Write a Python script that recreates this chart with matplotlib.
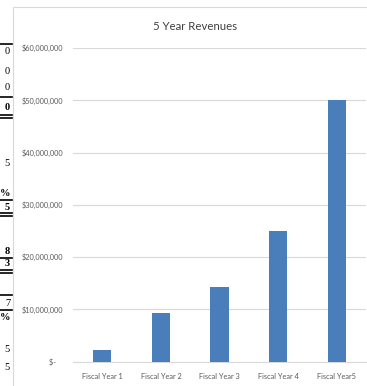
import matplotlib
matplotlib.use("Agg")
import matplotlib.pyplot as plt
from matplotlib.ticker import FuncFormatter
from matplotlib.patches import Rectangle
from matplotlib.lines import Line2D

categories = ["Fiscal Year 1", "Fiscal Year 2", "Fiscal Year 3", "Fiscal Year 4", "Fiscal Year5"]
revenues = [2200000, 9400000, 14300000, 25000000, 50000000]
yticks = [0, 10000000, 20000000, 30000000, 40000000, 50000000, 60000000]
title = "5 Year Revenues"

# cropped spreadsheet fragments at the left edge (text, y pixel)
frag_text = ["0", "0", "0", "0", "5", "%", "5", "8", "3", "7", "%", "5", "5"]
frag_y = [52, 71, 88, 107, 164, 194, 207, 252, 263, 304, 317, 350, 367]
frag_bold = [False, False, False, True, False, True, True, True, True, False, True, False, False]
frag_lines = [44, 97, 115, 118, 200, 213, 216, 258, 270, 273, 295, 310]

W, H = 367, 386
fig = plt.figure(figsize=(W / 100, H / 100), dpi=100)
fig.patch.set_facecolor("white")

# chart area border
fig.patches.append(Rectangle((13 / W, -0.01), 1.0, 1 - 7 / H + 0.01, transform=fig.transFigure,
                             fill=False, edgecolor="#d9d9d9", linewidth=0.8))

ax = fig.add_axes([73 / W, 1 - 361.7 / H, (366 - 73) / W, (361.7 - 48) / H])
x = range(len(categories))
ax.bar(x, revenues, width=0.31, color="#4a7ebb", zorder=3)
ax.set_xlim(-0.5, len(categories) - 0.5)
ax.set_ylim(0, 60000000)
ax.set_yticks(yticks)


def fmt(v, pos):
    if v == 0:
        return "$-    "
    return "$%s" % format(int(v), ",")


ax.yaxis.set_major_formatter(FuncFormatter(fmt))
ax.set_xticks(list(x))
ax.set_xticklabels(categories)
ax.grid(axis="y", color="#d9d9d9", linewidth=0.8, zorder=0)
for s in ["left", "right", "top"]:
    ax.spines[s].set_visible(False)
ax.spines["bottom"].set_color("#d9d9d9")
ax.spines["bottom"].set_linewidth(0.8)
ax.tick_params(length=0, labelsize=5.3, labelcolor="#595959", pad=7)
for lab in ax.get_xticklabels() + ax.get_yticklabels():
    lab.set_family("Lato")
ax.tick_params(axis="x", pad=8)

fig.text(195 / W, 1 - 26 / H, title, ha="center", va="center", fontsize=8.2,
         color="#404040", family="Lato")

# left-edge fragments
for t, yy, b in zip(frag_text, frag_y, frag_bold):
    fig.text(10 / W, 1 - yy / H, t, ha="right", va="center", fontsize=7.5,
             family="Liberation Serif", fontweight="bold" if b else "normal", color="black")
for yy in frag_lines:
    fig.lines.append(Line2D([0, 12 / W], [1 - yy / H, 1 - yy / H], transform=fig.transFigure,
                            color="black", linewidth=1.2))

fig.savefig("out.png", dpi=100)
